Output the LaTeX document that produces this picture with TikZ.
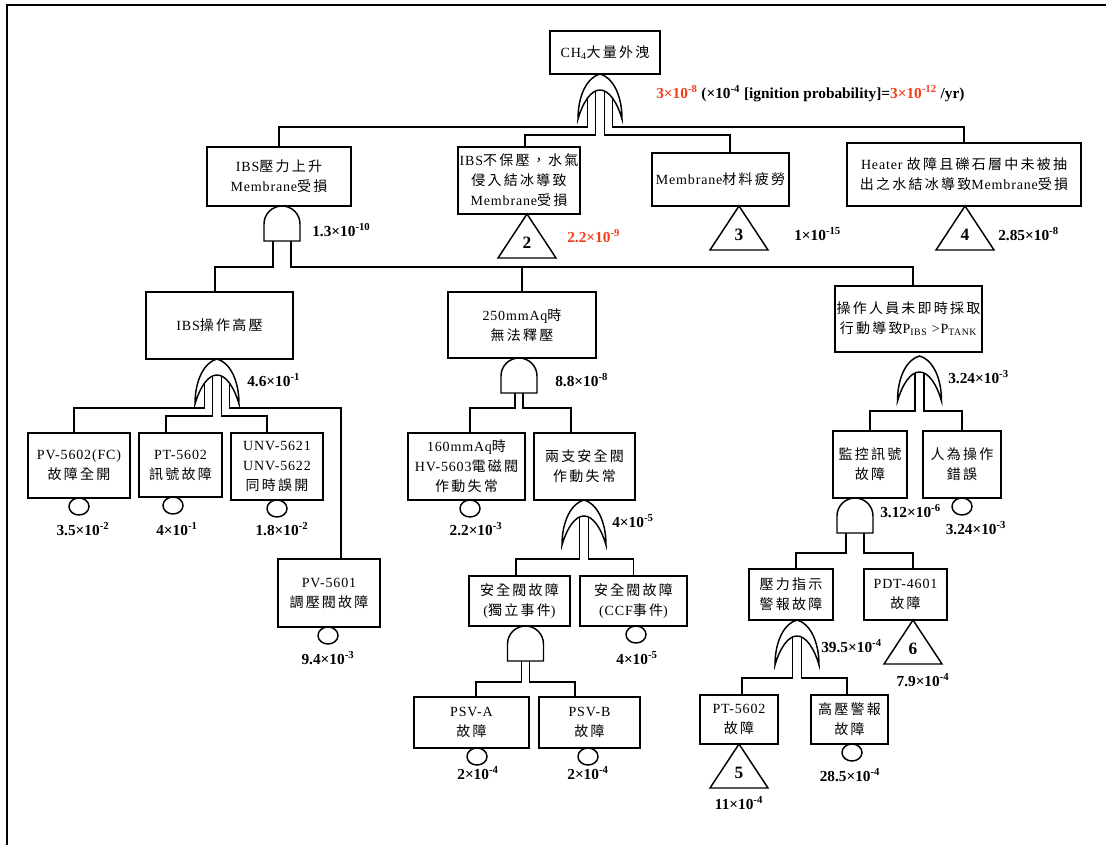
\documentclass[tikz,border=0pt]{standalone}
\usepackage{fontspec}
\setmainfont{Liberation Serif}
\newfontfamily\boxfont[LetterSpace=6]{Liberation Serif}
\newfontfamily\zhfont[LetterSpace=16]{Noto Sans CJK TC}
\newcommand\zh[1]{{\zhfont #1}}
\usetikzlibrary{calc,positioning,shapes.geometric}
\definecolor{probred}{RGB}{245,60,25}
\pgfdeclarelayer{bg}
\pgfsetlayers{bg,main}

\tikzset{
  orgate/.pic={
    \draw[gate] (-22,45) .. controls (-22,20) and (-12,3) .. (0,0)
      .. controls (12,3) and (22,20) .. (22,45)
      .. controls (17,28) and (9,16) .. (0,16)
      .. controls (-9,16) and (-17,28) .. (-22,45) -- cycle;
    \coordinate (-in1) at (-12.5,14);
    \coordinate (-in2) at (-4.5,10);
    \coordinate (-in3) at (4.5,10);
    \coordinate (-in4) at (12.5,14);
  },
  andgate/.pic={
    \draw[gate] (-18,35) -- (-18,18) arc[start angle=180, end angle=360, radius=18] -- (18,35) -- cycle;
    \coordinate (-in1) at (-9,26);
    \coordinate (-in2) at (-4,26);
    \coordinate (-in3) at (4,26);
    \coordinate (-in4) at (9,26);
  },
  xfer/.pic={
    \draw[gate] (0,0) -- (-29,44) -- (29,44) -- cycle;
    \node[xnum] (-n) at (0,29) {#1};
  }
}

\begin{document}
\begin{tikzpicture}[x=0.75pt, y=-0.75pt,
  box/.style={draw, line width=1.1pt, fill=white, align=center, inner sep=1pt,
    font=\boxfont\fontsize{10.5}{15}\selectfont},
  gate/.style={draw, line width=1.1pt, fill=white},
  wire/.style={line width=1.1pt},
  basic/.style={draw, ellipse, line width=1.1pt, minimum width=15pt, minimum height=12.75pt, inner sep=0pt},
  prob/.style={font=\bfseries\fontsize{11.5}{13}\selectfont, inner sep=0pt},
  xnum/.style={font=\bfseries\fontsize{13}{13}\selectfont, inner sep=0pt}]
    \useasboundingbox (0,0) rectangle (1106,845);
    \draw[line width=1.5pt] (1106,5) -| (7,845);

    % events
    \node[box, minimum width=82.5pt, minimum height=32.25pt] (top) at (605,52.5) {CH\textsubscript{4}\zh{大量外洩}};
    \node[box, minimum width=108pt, minimum height=44.25pt] (ibsup) at (279,176.5) {IBS\zh{壓力上升}\\Membrane\zh{受損}};
    \node[box, minimum width=91.5pt, minimum height=50.25pt] (ibsdry) at (519,180.5) {IBS\zh{不保壓，水氣}\\\zh{侵入結冰導致}\\Membrane\zh{受損}};
    \node[box, minimum width=102.75pt, minimum height=39.75pt] (fatigue) at (720.5,179.5) {Membrane\zh{材料疲勞}};
    \node[box, minimum width=175.5pt, minimum height=47.25pt] (heater) at (964,174.5) {Heater \zh{故障且礫石層中未被抽}\\\zh{出之水結冰導致}Membrane\zh{受損}};
    \node[box, minimum width=110.25pt, minimum height=50.25pt] (ibshigh) at (219.5,325.5) {IBS\zh{操作高壓}};
    \node[box, minimum width=111pt, minimum height=49.5pt] (relief) at (522,325) {250mmAq\zh{時}\\\zh{無法釋壓}};
    \node[box, minimum width=110.25pt, minimum height=49.5pt] (opr) at (908.5,319) {\zh{操作人員未即時採取}\\\zh{行動導致}P\textsubscript{IBS} >P\textsubscript{TANK}};
    \node[box, minimum width=76.5pt, minimum height=48.75pt] (pv5602) at (79,465.5) {PV-5602(FC)\\\zh{故障全開}};
    \node[box, minimum width=62.25pt, minimum height=48pt] (pt5602) at (180.5,465) {PT-5602\\\zh{訊號故障}};
    \node[box, minimum width=69pt, minimum height=50.25pt] (unv) at (277,466.5) {UNV-5621\\UNV-5622\\\zh{同時誤開}};
    \node[box, minimum width=76.5pt, minimum height=51pt] (pv5601) at (329,593) {PV-5601\\\zh{調壓閥故障}};
    \node[box, minimum width=87.75pt, minimum height=50.25pt] (hv5603) at (466.5,466.5) {160mmAq\zh{時}\\HV-5603\zh{電磁閥}\\\zh{作動失常}};
    \node[box, minimum width=75.75pt, minimum height=50.25pt] (psv2) at (584.5,466.5) {\zh{兩支安全閥}\\\zh{作動失常}};
    \node[box, minimum width=75.75pt, minimum height=37.5pt] (psvind) at (519.5,601) {\zh{安全閥故障}\\(\zh{獨立事件})};
    \node[box, minimum width=80.25pt, minimum height=37.5pt] (psvccf) at (633.5,601) {\zh{安全閥故障}\\(CCF\zh{事件})};
    \node[box, minimum width=86.25pt, minimum height=38.25pt] (psva) at (471.5,722.5) {PSV-A\\\zh{故障}};
    \node[box, minimum width=75.75pt, minimum height=38.25pt] (psvb) at (589.5,722.5) {PSV-B\\\zh{故障}};
    \node[box, minimum width=55.5pt, minimum height=50.25pt] (mon) at (870,464.5) {\zh{監控訊號}\\\zh{故障}};
    \node[box, minimum width=58.5pt, minimum height=50.25pt] (human) at (962,464.5) {\zh{人為操作}\\\zh{錯誤}};
    \node[box, minimum width=63pt, minimum height=38.25pt] (palarm) at (791,594.5) {\zh{壓力指示}\\\zh{警報故障}};
    \node[box, minimum width=62.25pt, minimum height=38.25pt] (pdt) at (905.5,594.5) {PDT-4601\\\zh{故障}};
    \node[box, minimum width=58.5pt, minimum height=36.75pt] (pt5602b) at (739,719.5) {PT-5602\\\zh{故障}};
    \node[box, minimum width=57.75pt, minimum height=36.75pt] (hialarm) at (849.5,719.5) {\zh{高壓警報}\\\zh{故障}};

    % gates
    \pic (g1) at (600,74) {orgate};
    \pic (g2) at (282,206) {andgate};
    \pic (g3) at (217,359) {orgate};
    \pic (g4) at (519,358) {andgate};
    \pic (g5) at (584,500) {orgate};
    \pic (g6) at (525.5,626) {andgate};
    \pic (g7) at (919.5,356) {orgate};
    \pic (g8) at (855,498) {andgate};
    \pic (g9) at (797,620) {orgate};

    % transfers
    \pic (t2) at (527,214) {xfer=2};
    \pic (t3) at (739,206) {xfer=3};
    \pic (t4) at (965,206) {xfer=4};
    \pic (t5) at (739,744) {xfer=5};
    \pic (t6) at (913,620) {xfer=6};

    % basic events
    \node[basic] (c1) at (79,506.5) {};
    \node[basic] (c2) at (173,505.5) {};
    \node[basic] (c3) at (277,508.5) {};
    \node[basic] (c4) at (328,635.5) {};
    \node[basic] (c5) at (470,508.5) {};
    \node[basic] (c6) at (636,634.5) {};
    \node[basic] (c7) at (477,756.5) {};
    \node[basic] (c8) at (588,756.5) {};
    \node[basic] (c9) at (962,506.5) {};
    \node[basic] (c10) at (852,752.5) {};

    \begin{pgfonlayer}{bg}
    \draw[wire] (g1-in1) -- (g1-in1 |- 0,127) -| (ibsup.north);
    \draw[wire] (g1-in2) -- (g1-in2 |- 0,135) -| ($(ibsdry.north)+(6,0)$);
    \draw[wire] (g1-in3) -- (g1-in3 |- 0,135) -| ($(fatigue.north)+(9.5,0)$);
    \draw[wire] (g1-in4) -- (g1-in4 |- 0,127) -| (heater.north);

    \draw[wire] (g2-in1) -- (g2-in1 |- 0,267) -| ($(ibshigh.north)+(-4.5,0)$);
    \draw[wire] (g2-in4) -- (g2-in4 |- 0,267) -| ($(opr.north)+(4.5,0)$);
    \draw[wire] (relief.north) -- (relief.north |- 0,267);

    \draw[wire] (g3-in1) -- (g3-in1 |- 0,408) -| ($(pv5602.north)+(-5,0)$);
    \draw[wire] (g3-in2) -- (g3-in2 |- 0,416) -| ($(pt5602.north)+(-14.5,0)$);
    \draw[wire] (g3-in3) -- (g3-in3 |- 0,416) -| ($(unv.north)+(-10,0)$);
    \draw[wire] (g3-in4) -- (g3-in4 |- 0,408) -| ($(pv5601.north)+(12,0)$);

    \draw[wire] (g4-in2) -- (g4-in2 |- 0,408) -| ($(hv5603.north)+(3.5,0)$);
    \draw[wire] (g4-in3) -- (g4-in3 |- 0,408) -| ($(psv2.north)+(-13.5,0)$);

    \draw[wire] (g5-in2) -- (g5-in2 |- 0,559) -| ($(psvind.north)+(-3.5,0)$);
    \draw[wire] (g5-in3) -- (g5-in3 |- 0,559) -| (psvccf.north);

    \draw[wire] (g6-in2) -- (g6-in2 |- 0,682) -| ($(psva.north)+(4.5,0)$);
    \draw[wire] (g6-in3) -- (g6-in3 |- 0,682) -| ($(psvb.north)+(-14.5,0)$);

    \draw[wire] (g7-in2) -- (g7-in2 |- 0,411) -| (mon.north);
    \draw[wire] (g7-in3) -- (g7-in3 |- 0,411) -| (human.north);

    \draw[wire] (g8-in1) -- (g8-in1 |- 0,553) -| ($(palarm.north)+(5,0)$);
    \draw[wire] (g8-in4) -- (g8-in4 |- 0,553) -| ($(pdt.north)+(7.5,0)$);

    \draw[wire] (g9-in2) -- (g9-in2 |- 0,678) -| ($(pt5602b.north)+(3,0)$);
    \draw[wire] (g9-in3) -- (g9-in3 |- 0,678) -| ($(hialarm.north)+(-2.5,0)$);
    \end{pgfonlayer}

    % probabilities
    \node[prob, anchor=west] (ptop) at (656,94) {\textcolor{probred}{3×10\textsuperscript{-8}} (×10\textsuperscript{-4} [ignition probability]=\textcolor{probred}{3×10\textsuperscript{-12}} /yr)};
    \node[prob, anchor=west] (pibsup) at (312,230) {1.3×10\textsuperscript{-10}};
    \node[prob, anchor=west, text=probred] (pibsdry) at (567,236) {2.2×10\textsuperscript{-9}};
    \node[prob, anchor=west] (pfat) at (794,234) {1×10\textsuperscript{-15}};
    \node[prob, anchor=west] (pheat) at (998,234) {2.85×10\textsuperscript{-8}};
    \node[prob, anchor=west] (phigh) at (247,380) {4.6×10\textsuperscript{-1}};
    \node[prob, anchor=west] (prelief) at (555,380) {8.8×10\textsuperscript{-8}};
    \node[prob, anchor=west] (popr) at (948,377) {3.24×10\textsuperscript{-3}};
    \node[prob, anchor=west] (ppsv2) at (612,521) {4×10\textsuperscript{-5}};
    \node[prob, anchor=west] (pmon) at (880,511) {3.12×10\textsuperscript{-6}};
    \node[prob, anchor=west] (ppalarm) at (821,646) {39.5×10\textsuperscript{-4}};
    \node[prob] (ppv5602) at (83,529) {3.5×10\textsuperscript{-2}};
    \node[prob] (ppt5602) at (177,529) {4×10\textsuperscript{-1}};
    \node[prob] (punv) at (282,529) {1.8×10\textsuperscript{-2}};
    \node[prob] (phv) at (476,529) {2.2×10\textsuperscript{-3}};
    \node[prob] (phuman) at (976,528) {3.24×10\textsuperscript{-3}};
    \node[prob] (ppv5601) at (328,658) {9.4×10\textsuperscript{-3}};
    \node[prob] (pccf) at (637,658) {4×10\textsuperscript{-5}};
    \node[prob] (ppsva) at (478,773) {2×10\textsuperscript{-4}};
    \node[prob] (ppsvb) at (588,773) {2×10\textsuperscript{-4}};
    \node[prob] (ppdt) at (923,680) {7.9×10\textsuperscript{-4}};
    \node[prob] (phialarm) at (850,775) {28.5×10\textsuperscript{-4}};
    \node[prob] (ppt5602b) at (739,803) {11×10\textsuperscript{-4}};
\end{tikzpicture}
\end{document}
